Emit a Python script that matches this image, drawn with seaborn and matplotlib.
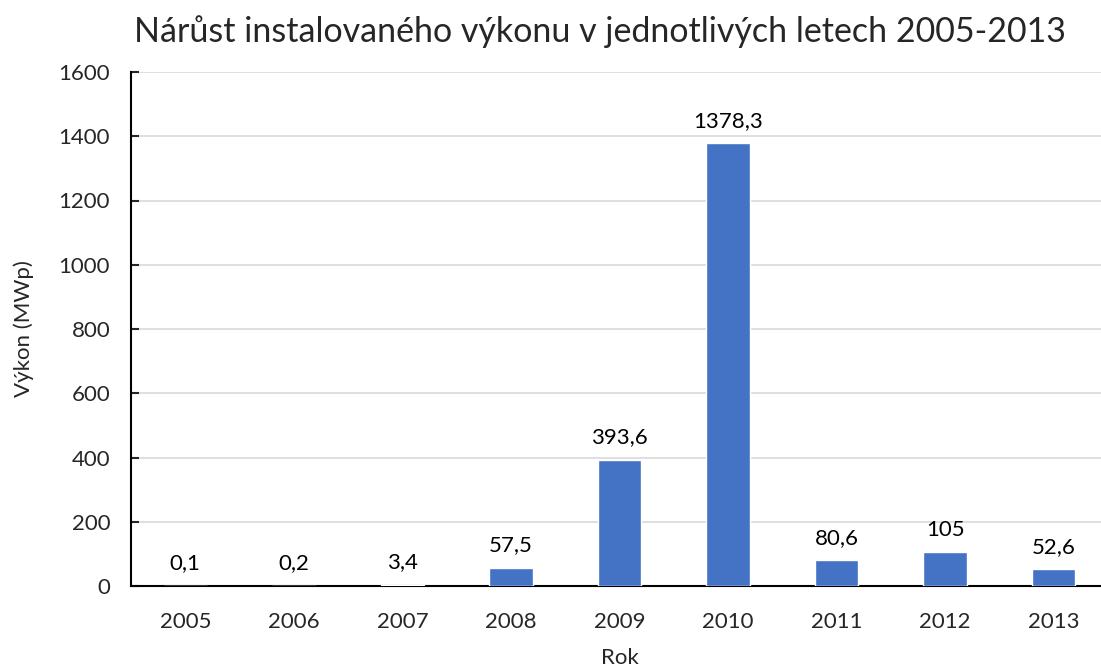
import matplotlib
matplotlib.use('Agg')
import matplotlib.pyplot as plt
import seaborn as sns
import pandas as pd

years = ['2005', '2006', '2007', '2008', '2009', '2010', '2011', '2012', '2013']
vykon = [0.1, 0.2, 3.4, 57.5, 393.6, 1378.3, 80.6, 105, 52.6]
labels = ['0,1', '0,2', '3,4', '57,5', '393,6', '1378,3', '80,6', '105', '52,6']
yticks = [0, 200, 400, 600, 800, 1000, 1200, 1400, 1600]

sns.set_style('white')
plt.rcParams['font.family'] = ['Lato', 'DejaVu Sans']

df = pd.DataFrame({'rok': years, 'vykon': vykon})

fig = plt.figure(figsize=(11.01, 6.72), dpi=100)
ax = fig.add_axes([131 / 1101, 1 - 586 / 672, 977 / 1101, (586 - 72) / 672])

sns.barplot(data=df, x='rok', y='vykon', color='#4472C4', saturation=1,
            width=0.4, ax=ax, zorder=3)

# popisky hodnot
for i, (v, lab) in enumerate(zip(vykon, labels)):
    ax.annotate(lab, xy=(i, v), xytext=(0, 9), textcoords='offset points',
                ha='center', va='bottom', fontsize=16, color='black')

ax.set_ylim(0, 1600)
ax.set_xlim(-0.5, 8.5)
ax.set_yticks(yticks)
ax.yaxis.grid(True, color='#d9d9d9', linewidth=1.2, zorder=0)
ax.set_axisbelow(True)

for s in ['top', 'right']:
    ax.spines[s].set_visible(False)
ax.spines['left'].set_color('black')
ax.spines['left'].set_linewidth(1.5)
ax.spines['bottom'].set_color('black')
ax.spines['bottom'].set_linewidth(1.5)

ax.tick_params(axis='y', direction='in', length=6, width=1.5, left=True,
               labelsize=16, pad=15)
ax.tick_params(axis='x', bottom=False, labelsize=16, pad=15)

ax.set_xlabel('Rok', fontsize=16, labelpad=12)
ax.set_ylabel('Výkon (MWp)', fontsize=16, labelpad=18)
fig.suptitle('Nárůst instalovaného výkonu v jednotlivých letech 2005-2013',
             x=0.545, y=0.978, fontsize=24.5)

fig.savefig('out.png', dpi=100)
